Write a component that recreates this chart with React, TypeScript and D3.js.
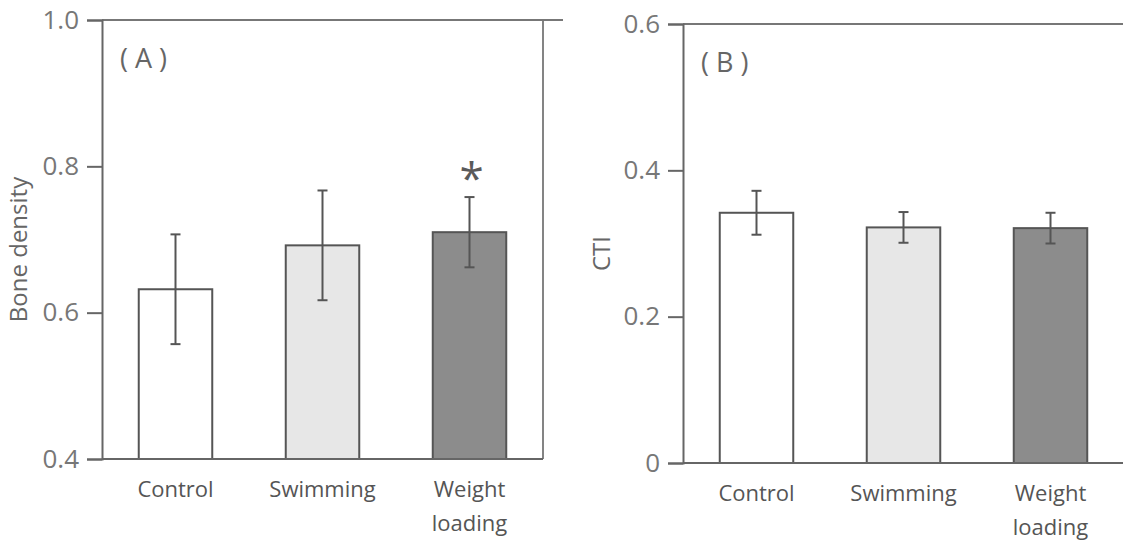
import React, { useEffect, useRef } from 'react';
import * as d3 from 'd3';

// groups and values
const categories = ['Control', 'Swimming', 'Weight loading'];
const barFills = ['#ffffff', '#e7e7e7', '#8c8c8c'];

const boneDensity = [0.632, 0.692, 0.71];
const boneDensityErr = [0.075, 0.075, 0.048];
const boneTicks = [0.4, 0.6, 0.8, 1.0];
const boneStars = [false, false, true];

const cti = [0.342, 0.322, 0.321];
const ctiErr = [0.03, 0.021, 0.021];
const ctiTicks = [0, 0.2, 0.4, 0.6];

const W = 1123;
const H = 543;
const FONT = '"Open Sans", "Noto Sans", sans-serif';

const App = () => {
  const myRef = useRef(null);

  useEffect(() => {
    const svg = d3.select(myRef.current);
    svg.selectAll('*').remove();

    const drawPanel = (p) => {
      const innerW = 441;
      const innerH = 439;
      const g = svg.append('g').attr('transform', `translate(${p.left}, ${p.top})`);

      const x = d3.scaleBand().domain(categories).range([0, innerW]).paddingInner(0.5).paddingOuter(0.25);
      const y = d3.scaleLinear().domain([p.ticks[0], p.ticks[p.ticks.length - 1]]).range([innerH, 0]);

      // bars
      g.selectAll('.bar')
        .data(categories)
        .join('rect')
        .attr('x', (d) => x(d))
        .attr('y', (d, i) => y(p.values[i]))
        .attr('width', x.bandwidth())
        .attr('height', (d, i) => innerH - y(p.values[i]))
        .attr('fill', (d, i) => barFills[i])
        .attr('stroke', '#555')
        .attr('stroke-width', 2);

      // error bars
      const cap = 5;
      categories.forEach((c, i) => {
        const cx = x(c) + x.bandwidth() / 2;
        const hi = y(p.values[i] + p.errs[i]);
        const lo = y(p.values[i] - p.errs[i]);
        const eb = g.append('g').attr('stroke', '#555').attr('stroke-width', 2);
        eb.append('line').attr('x1', cx).attr('x2', cx).attr('y1', hi).attr('y2', lo);
        eb.append('line').attr('x1', cx - cap).attr('x2', cx + cap).attr('y1', hi).attr('y2', hi);
        eb.append('line').attr('x1', cx - cap).attr('x2', cx + cap).attr('y1', lo).attr('y2', lo);
        if (p.stars && p.stars[i]) {
          g.append('text')
            .attr('x', cx + 2)
            .attr('y', hi - 3)
            .attr('text-anchor', 'middle')
            .attr('font-family', FONT)
            .attr('font-size', 44)
            .attr('fill', '#5a5a5a')
            .text('*');
        }
      });

      // frame: top, right (right of panel B falls off the page)
      g.append('line').attr('x1', 0).attr('x2', innerW + 20).attr('y1', 0).attr('y2', 0)
        .attr('stroke', '#777').attr('stroke-width', 1.8);
      g.append('line').attr('x1', innerW).attr('x2', innerW).attr('y1', 0).attr('y2', innerH)
        .attr('stroke', '#777').attr('stroke-width', 1.8);

      // left axis
      const yAxis = g.append('g')
        .call(d3.axisLeft(y).tickValues(p.ticks).tickSize(15).tickPadding(8).tickFormat(p.fmt));
      yAxis.select('.domain').attr('stroke', '#666').attr('stroke-width', 2);
      yAxis.selectAll('.tick line').attr('stroke', '#666').attr('stroke-width', 2);
      yAxis.selectAll('.tick text')
        .attr('font-family', FONT)
        .attr('font-size', 26)
        .attr('fill', '#777');

      // bottom axis
      g.append('line').attr('x1', 0).attr('x2', innerW).attr('y1', innerH).attr('y2', innerH)
        .attr('stroke', '#666').attr('stroke-width', 2);

      // category labels
      g.selectAll('.cat')
        .data(categories)
        .join('text')
        .attr('text-anchor', 'middle')
        .attr('font-family', FONT)
        .attr('font-size', 22)
        .attr('fill', '#555')
        .attr('transform', (d) => `translate(${x(d) + x.bandwidth() / 2}, ${innerH + 38})`)
        .each(function (d) {
          const words = d.split(' ');
          d3.select(this).selectAll('tspan')
            .data(words)
            .join('tspan')
            .attr('x', 0)
            .attr('dy', (w, j) => (j === 0 ? 0 : 34))
            .text((w) => w);
        });

      // panel letter
      g.append('text')
        .attr('x', 18)
        .attr('y', 48)
        .attr('font-family', FONT)
        .attr('font-size', 27)
        .attr('fill', '#666')
        .attr('xml:space', 'preserve')
        .text(p.letter);

      // y label
      g.append('text')
        .attr('transform', `translate(${p.yLabelX}, ${innerH / 2 + 10}) rotate(-90)`)
        .attr('text-anchor', 'middle')
        .attr('font-family', FONT)
        .attr('font-size', 24)
        .attr('fill', '#666')
        .text(p.yLabel);
    };

    drawPanel({
      left: 102, top: 20,
      values: boneDensity, errs: boneDensityErr, ticks: boneTicks, stars: boneStars,
      fmt: d3.format('.1f'), letter: '( A )', yLabel: 'Bone density', yLabelX: -75,
    });

    drawPanel({
      left: 683, top: 24,
      values: cti, errs: ctiErr, ticks: ctiTicks, stars: null,
      fmt: (d) => (d === 0 ? '0' : d3.format('.1f')(d)), letter: '( B )', yLabel: 'CTI', yLabelX: -73,
    });
  }, []);

  return (
    <div style={{ position: 'absolute', left: 0, top: 0 }}>
      <svg ref={myRef} width={W} height={H} style={{ display: 'block', background: '#fff' }}></svg>
    </div>
  );
};

export default App;
